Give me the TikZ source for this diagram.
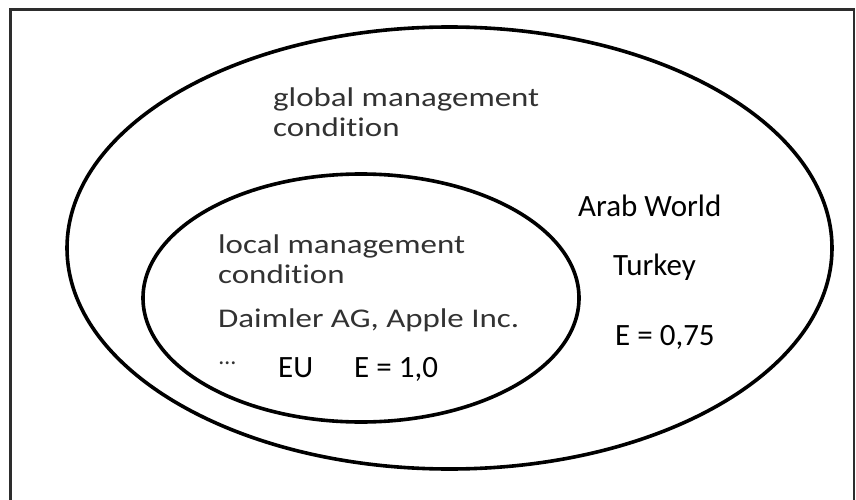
\documentclass[tikz,border=0pt]{standalone}
\usepackage{fontspec}
\setmainfont{Carlito}[Ligatures={NoCommon}]
\newfontfamily\greyfont[FakeStretch=1.22,Ligatures={NoCommon}]{Carlito}
\definecolor{txtgrey}{RGB}{50,50,50}
\definecolor{framegrey}{RGB}{45,45,45}
\begin{document}
\begin{tikzpicture}[x=1pt,y=-1pt,
  greytext/.style={anchor=base west,inner sep=0pt,text=txtgrey,font=\greyfont\fontsize{27}{28}\selectfont},
  blacktext/.style={anchor=base west,inner sep=0pt,text=black,font=\fontsize{31}{33}\selectfont},
  ring/.style={draw=black,line width=3.6pt}]
\useasboundingbox (0,0) rectangle (856,500);
\fill[white] (0,0) rectangle (856,500);
% frame
\draw[framegrey,line width=2.6pt] (10.5,502) -- (10.5,9.7) -- (854,9.7) -- (854,502);
% ellipses
\draw[ring] (449.5,248) ellipse [x radius=382.5pt, y radius=221pt];
\draw[ring] (361,298) ellipse [x radius=218pt, y radius=124pt];
% outer texts
\node[greytext] (g1) at (273,107) {global management};
\node[greytext] (g2) at (273,136) {condition};
\node[blacktext] (arab) at (578,216) {Arab World};
\node[blacktext] (turkey) at (613,275) {Turkey};
\node[blacktext] (e075) at (615,345) {E = 0,75};
% inner texts
\node[greytext] (l1) at (218,253) {local management};
\node[greytext] (l2) at (218,283) {condition};
\node[greytext] (daimler) at (218,327) {Daimler AG, Apple Inc.};
\node[anchor=base west,inner sep=0pt,text=txtgrey,font=\fontsize{24}{26}\selectfont] (dots) at (219,364) {…};
\node[blacktext] (eu) at (278,377) {EU};
\node[blacktext] (e10) at (354,377) {E = 1,0};
\end{tikzpicture}
\end{document}
